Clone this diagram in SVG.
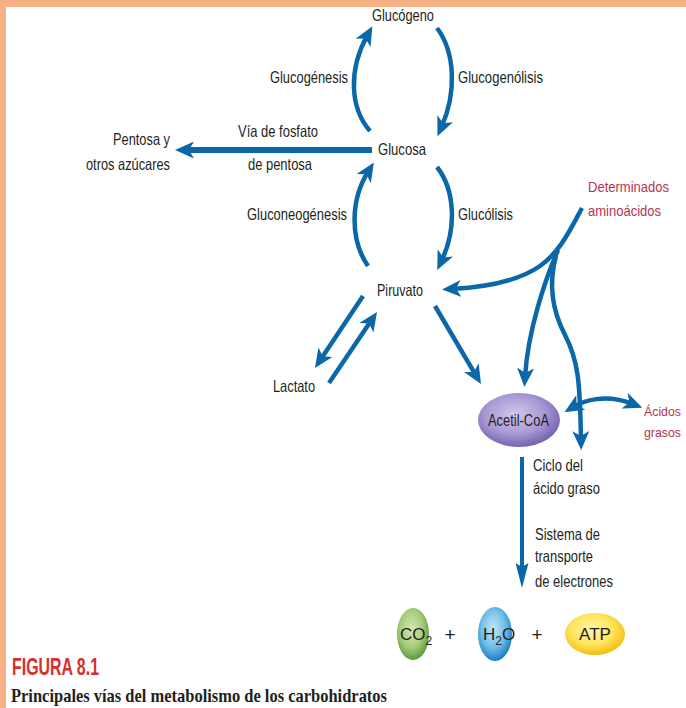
<svg xmlns="http://www.w3.org/2000/svg" width="686" height="708" viewBox="0 0 686 708">
<defs>
<style>
.t{font-family:"Liberation Sans Narrow","Liberation Sans",Arial,sans-serif;font-size:16.5px;fill:#231F20}
.r{fill:#B8324F;font-size:15px}
.c{fill:none;stroke:#0B67A8;stroke-width:4.5}
.ce{marker-end:url(#ah)}
</style>
<marker id="ah" viewBox="0 0 19 17" refX="9" refY="8.5" markerWidth="19" markerHeight="17" markerUnits="userSpaceOnUse" orient="auto-start-reverse">
<path d="M0,0 L19,8.5 L0,17 L5,8.5 z" fill="#0B67A8"/>
</marker>
<marker id="al" viewBox="0 0 25 13" refX="13" refY="6.5" markerWidth="25" markerHeight="13" markerUnits="userSpaceOnUse" orient="auto">
<path d="M0,0 L25,6.5 L0,13 L4,6.5 z" fill="#0B67A8"/>
</marker>
<radialGradient id="gP" cx="45%" cy="40%" r="60%">
<stop offset="0" stop-color="#D2C8EC"/><stop offset="0.6" stop-color="#A999D4"/><stop offset="1" stop-color="#7562AE"/>
</radialGradient>
<radialGradient id="gG" cx="45%" cy="40%" r="60%">
<stop offset="0" stop-color="#D4E8B0"/><stop offset="0.6" stop-color="#A6CC7A"/><stop offset="1" stop-color="#5E9B3C"/>
</radialGradient>
<radialGradient id="gB" cx="45%" cy="40%" r="60%">
<stop offset="0" stop-color="#C6E8F8"/><stop offset="0.6" stop-color="#6EBDE8"/><stop offset="1" stop-color="#1F7CC4"/>
</radialGradient>
<radialGradient id="gY" cx="45%" cy="40%" r="60%">
<stop offset="0" stop-color="#FFF7B0"/><stop offset="0.6" stop-color="#FFE45A"/><stop offset="1" stop-color="#F0BE12"/>
</radialGradient>
</defs>
<rect x="0" y="0" width="686" height="708" fill="#FFFFFF"/>
<rect x="0" y="0" width="686" height="7" fill="#F5B183"/>
<rect x="0" y="0" width="6" height="708" fill="#F5B183"/>

<g id="connectors">
<path class="c ce" d="M370,131 C350,108 348,70 367.5,35"/>
<path class="c ce" d="M437,28 C455,52 457,92 441.5,127"/>
<path class="c ce" d="M368,266 C350,240 350,200 368.5,171"/>
<path class="c ce" d="M437,167 C455,190 457,228 441.5,261"/>
<path class="c ce" d="M372,150 L185,150" style="stroke-width:6"/>
<path class="c ce" d="M363,296 L320.5,359.7"/>
<path class="c ce" d="M329,383 L371.4,320.3"/>
<path class="c ce" d="M435,306 L475.9,375.4"/>
<path class="c ce" d="M582,208 C570,230 560,252 540,266 C520,280 490,287 452,289"/>
<path class="c ce" d="M558,250 C545,280 528,330 525,377"/>
<path class="c ce" d="M556,256 C548,285 552,310 565,335 C578,360 580,380 581,440"/>
<path class="c" d="M573,407 C583,401 605,393 633,404" marker-start="url(#ah)" marker-end="url(#ah)"/>
<path class="c" d="M522,457 L522,576" marker-end="url(#al)" style="stroke-width:4"/>
</g>

<g id="glucogeno"><text class="t" x="372" y="21" textLength="62" lengthAdjust="spacingAndGlyphs">Glucógeno</text></g>
<g id="glucogenesis"><text class="t" x="270" y="83" textLength="78" lengthAdjust="spacingAndGlyphs">Glucogénesis</text></g>
<g id="glucogenolisis"><text class="t" x="458" y="83" textLength="85" lengthAdjust="spacingAndGlyphs">Glucogenólisis</text></g>
<g id="glucosa"><text class="t" x="378" y="155" textLength="48" lengthAdjust="spacingAndGlyphs">Glucosa</text></g>
<g id="via"><text class="t" x="238" y="137" textLength="80" lengthAdjust="spacingAndGlyphs">Vía de fosfato</text>
<text class="t" x="248" y="170" textLength="64" lengthAdjust="spacingAndGlyphs">de pentosa</text></g>
<g id="pentosa"><text class="t" x="113" y="145" textLength="57" lengthAdjust="spacingAndGlyphs">Pentosa y</text>
<text class="t" x="86" y="170" textLength="84" lengthAdjust="spacingAndGlyphs">otros azúcares</text></g>
<g id="gluconeogenesis"><text class="t" x="247" y="220" textLength="100" lengthAdjust="spacingAndGlyphs">Gluconeogénesis</text></g>
<g id="glucolisis"><text class="t" x="458" y="220" textLength="55" lengthAdjust="spacingAndGlyphs">Glucólisis</text></g>
<g id="piruvato"><text class="t" x="377" y="296" textLength="46" lengthAdjust="spacingAndGlyphs">Piruvato</text></g>
<g id="lactato"><text class="t" x="273" y="392" textLength="42" lengthAdjust="spacingAndGlyphs">Lactato</text></g>
<g id="aminoacidos"><text class="t r" x="588" y="192" textLength="81" lengthAdjust="spacingAndGlyphs">Determinados</text>
<text class="t r" x="588" y="216" textLength="73" lengthAdjust="spacingAndGlyphs">aminoácidos</text></g>
<g id="acetilcoa"><ellipse cx="519" cy="420" rx="41" ry="27" fill="url(#gP)"/>
<text class="t" x="488" y="426" textLength="61" lengthAdjust="spacingAndGlyphs">Acetil-CoA</text></g>
<g id="acidos"><text class="t r" x="644" y="416" textLength="37" lengthAdjust="spacingAndGlyphs" style="font-size:13.5px">Ácidos</text>
<text class="t r" x="644" y="437" textLength="37" lengthAdjust="spacingAndGlyphs" style="font-size:13.5px">grasos</text></g>
<g id="ciclo"><text class="t" x="533" y="471" textLength="50" lengthAdjust="spacingAndGlyphs">Ciclo del</text>
<text class="t" x="533" y="494" textLength="67" lengthAdjust="spacingAndGlyphs">ácido graso</text></g>
<g id="sistema"><text class="t" x="535" y="540" textLength="65" lengthAdjust="spacingAndGlyphs">Sistema de</text>
<text class="t" x="535" y="562" textLength="58" lengthAdjust="spacingAndGlyphs">transporte</text>
<text class="t" x="535" y="587" textLength="78" lengthAdjust="spacingAndGlyphs">de electrones</text></g>
<g id="co2"><ellipse cx="413" cy="634" rx="16" ry="26" fill="url(#gG)"/>
<text class="t" x="400" y="640" style="font-size:17px">CO<tspan font-size="12" dy="5">2</tspan></text></g>
<g id="plus1"><text class="t" x="450" y="641" text-anchor="middle" style="font-size:19px">+</text></g>
<g id="h2o"><ellipse cx="495" cy="634" rx="17" ry="27" fill="url(#gB)"/>
<text class="t" x="483" y="640" style="font-size:17px">H<tspan font-size="12" dy="5">2</tspan><tspan dy="-5">O</tspan></text></g>
<g id="plus2"><text class="t" x="537" y="641" text-anchor="middle" style="font-size:19px">+</text></g>
<g id="atp"><ellipse cx="595" cy="634" rx="30" ry="21" fill="url(#gY)"/>
<text class="t" x="595" y="640" text-anchor="middle" style="font-size:17px">ATP</text></g>

<g id="caption">
<text x="12" y="675" textLength="87" lengthAdjust="spacingAndGlyphs" style="font-family:'Liberation Sans Narrow','Liberation Sans',Arial,sans-serif;font-weight:bold;font-size:24px;fill:#D5302C">FIGURA 8.1</text>
<text x="11" y="702" textLength="376" lengthAdjust="spacingAndGlyphs" style="font-family:'Liberation Serif','Times New Roman',serif;font-weight:bold;font-size:19px;fill:#231F20">Principales vías del metabolismo de los carbohidratos</text>
</g>
</svg>
